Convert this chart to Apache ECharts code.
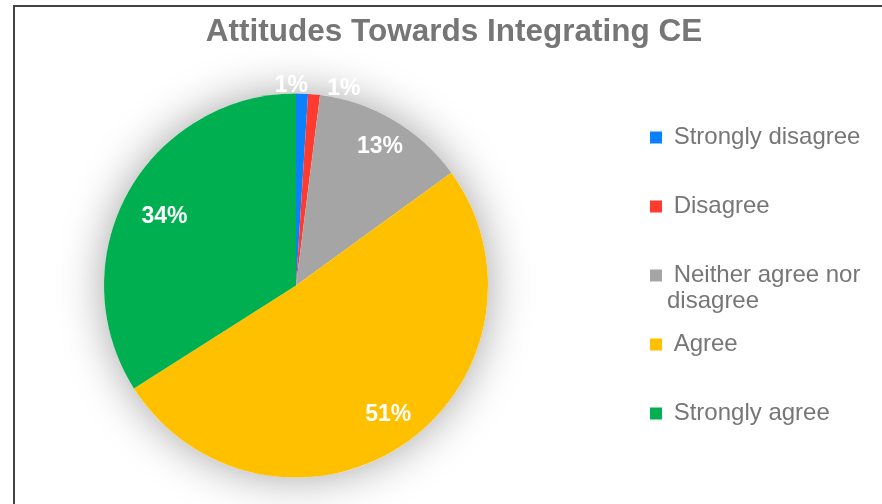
<!DOCTYPE html>
<html>
<head>
<meta charset="utf-8">
<script src="https://cdn.jsdelivr.net/npm/echarts@6/dist/echarts.min.js"></script>
<style>
  html, body { margin: 0; padding: 0; background: #ffffff; }
  #wrap { position: relative; width: 882px; height: 504px; overflow: hidden; }
  #frame { position: absolute; left: 13px; top: 5px; width: 1000px; height: 1000px;
           border-left: 2px solid #444; border-top: 2px solid #444; box-sizing: border-box; }
  #chart { position: absolute; left: 0; top: 0; width: 882px; height: 504px; }
</style>
</head>
<body>
<div id="wrap">
  <div id="frame"></div>
  <div id="chart"></div>
</div>
<script>
// ---- data ----
const chartTitle = 'Attitudes Towards Integrating CE';
const categories = ['Strongly disagree', 'Disagree', 'Neither agree nor disagree', 'Agree', 'Strongly agree'];
const values = [1, 1, 13, 51, 34];
const colors = ['#0A80FF', '#FF3B30', '#A5A5A5', '#FFC000', '#00B050'];

// ---- style / layout ----
const CENTER = [296, 285.5];
const RADIUS = 192;
const textGray = '#767676';
const font = 'Liberation Sans, Arial, sans-serif';
const smallIdx = [0, 1];                 // tiny slices whose labels sit just outside the pie
const labelShift = { 0: [-11, 0], 1: [29, 2], 2: [4, -4], 3: [4, -1], 4: [6, 7] };
const legendCenters = [137.5, 206.5, 275.5, 344.5, 413.5];

const chart = echarts.init(document.getElementById('chart'), null, { renderer: 'canvas' });

const pieData = categories.map((c, i) => ({ name: c, value: values[i], itemStyle: { color: colors[i] } }));

const labelBase = { color: '#ffffff', fontSize: 23, fontWeight: 'bold', fontFamily: font, formatter: '{d}%' };
const nudge = p => {
  const s = labelShift[p.dataIndex];
  return s ? { dx: s[0], dy: s[1] } : {};
};

function overlayData(showSet) {
  return categories.map((c, i) => ({
    name: c, value: values[i],
    itemStyle: { color: 'rgba(0,0,0,0)' },
    label: { show: showSet(i) }
  }));
}

const legends = categories.map((c, i) => {
  const twoLine = c.indexOf(' nor ') >= 0;
  return {
    data: [c],
    orient: 'vertical',
    left: 650,
    top: legendCenters[i] - (twoLine ? 39 : 13),
    padding: 0,
    icon: 'rect',
    itemWidth: 12,
    itemHeight: 12,
    selectedMode: false,
    // the wrapped item gets an empty first line so its first text line sits beside the marker
    formatter: name => name.indexOf(' nor disagree') >= 0
      ? '\n ' + name.replace(' nor disagree', ' nor\ndisagree')
      : ' ' + name,
    textStyle: { color: textGray, fontSize: 24, fontFamily: font, lineHeight: 26 }
  };
});

chart.setOption({
  backgroundColor: 'transparent',
  animation: false,
  title: {
    text: chartTitle,
    left: 454,
    textAlign: 'center',
    top: 16,
    padding: 0,
    textStyle: { color: textGray, fontSize: 31.5, fontWeight: 'bold', fontFamily: font }
  },
  legend: legends,
  series: [
    {
      // soft glow behind the pie
      type: 'pie', silent: true, center: CENTER, radius: RADIUS, z: 1,
      label: { show: false }, labelLine: { show: false },
      data: [{ name: '__shadow', value: 1,
        itemStyle: { color: '#ffffff', shadowBlur: 45, shadowColor: 'rgba(0,0,0,0.36)' } }]
    },
    {
      type: 'pie', center: CENTER, radius: RADIUS, startAngle: 90, clockwise: true, z: 2,
      silent: true,
      itemStyle: { borderWidth: 0 },
      label: { show: false }, labelLine: { show: false },
      emphasis: { disabled: true },
      data: pieData
    },
    {
      // labels of the larger slices
      type: 'pie', center: CENTER, radius: 308, startAngle: 90, z: 3, silent: true,
      label: Object.assign({ position: 'inside' }, labelBase),
      labelLine: { show: false },
      emphasis: { disabled: true },
      labelLayout: nudge,
      data: overlayData(i => smallIdx.indexOf(i) < 0)
    },
    {
      // labels of the tiny slices
      type: 'pie', center: CENTER, radius: 394, startAngle: 90, z: 3, silent: true,
      label: Object.assign({ position: 'inside' }, labelBase),
      labelLine: { show: false },
      emphasis: { disabled: true },
      labelLayout: nudge,
      data: overlayData(i => smallIdx.indexOf(i) >= 0)
    }
  ]
});
</script>
</body>
</html>
